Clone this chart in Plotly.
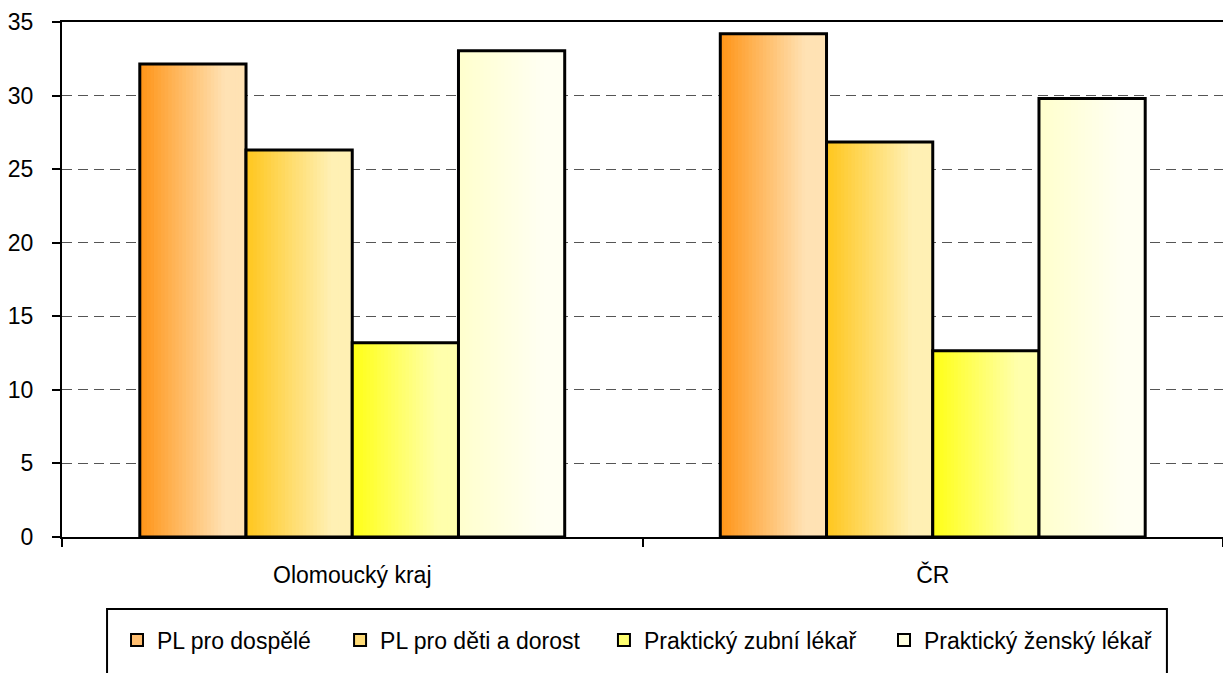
import plotly.graph_objects as go

categories = ["Olomoucký kraj", "ČR"]
series_names = ["PL pro dospělé", "PL pro děti a dorost", "Praktický zubní lékař", "Praktický ženský lékař"]
pl_dospele = [32.15, 34.2]
pl_deti = [26.3, 26.85]
zubni = [13.2, 12.65]
zensky = [33.05, 29.8]
y_ticks = [0, 5, 10, 15, 20, 25, 30, 35]

series_values = [pl_dospele, pl_deti, zubni, zensky]
grad_left = [(255, 148, 22), (255, 198, 28), (255, 255, 20), (255, 255, 205)]
grad_right = [(255, 226, 180), (255, 240, 180), (255, 255, 172), (255, 255, 242)]
legend_col = ["#FFBE70", "#FFDC78", "#FFFF70", "#FFFFE0"]

FONT = "Liberation Sans, Arial, sans-serif"
FS = 23

bar_w = 0.183
offsets = [-2 * bar_w, -bar_w, 0.0, bar_w]
legend_x = [0.0474, 0.2395, 0.4668, 0.7080]
legend_ids = ["legend", "legend2", "legend3", "legend4"]
N = 30

fig = go.Figure()


def mix(a, b, t):
    return "rgb(%d,%d,%d)" % tuple(round(a[i] + (b[i] - a[i]) * t) for i in range(3))


for s, vals in enumerate(series_values):
    sw = bar_w / N
    for k in range(N):
        t = min(1.0, (k + 0.5) / (N * 0.8))
        w = sw * 1.4 if k < N - 1 else sw
        fig.add_trace(go.Bar(
            x=categories, y=vals, width=w, offset=offsets[s] + k * sw,
            marker=dict(color=mix(grad_left[s], grad_right[s], t), line=dict(width=0)),
            showlegend=False, hoverinfo="skip",
        ))
    fig.add_trace(go.Bar(
        x=categories, y=vals, width=bar_w, offset=offsets[s],
        marker=dict(color="rgba(0,0,0,0)", line=dict(color="black", width=3)),
        showlegend=False, name=series_names[s],
    ))

for s in range(4):
    fig.add_trace(go.Bar(
        x=[categories[0]], y=[None], name=series_names[s],
        marker=dict(color=legend_col[s], line=dict(color="black", width=2)),
        showlegend=True, legend=legend_ids[s],
    ))

legend_common = dict(
    orientation="h", xanchor="left", y=-0.2, yanchor="middle",
    font=dict(family=FONT, size=FS, color="black"),
    bgcolor="rgba(0,0,0,0)", borderwidth=0,
)
legend_layout = {lid: dict(legend_common, x=legend_x[i]) for i, lid in enumerate(legend_ids)}

fig.update_layout(
    width=1223, height=673,
    margin=dict(l=62, r=0, t=22, b=136),
    barmode="overlay",
    paper_bgcolor="white", plot_bgcolor="white",
    font=dict(family=FONT, size=FS, color="black"),
    showlegend=True,
    shapes=[dict(type="rect", xref="paper", yref="paper",
                 x0=0.0388, x1=0.9517, y0=-0.1398, y1=-0.32,
                 line=dict(color="black", width=2), fillcolor="rgba(0,0,0,0)", layer="below")],
    xaxis=dict(
        type="category", showline=True, linecolor="black", linewidth=2, mirror=True,
        ticks="outside", tickson="boundaries", ticklen=8, tickwidth=2, tickcolor="black",
        ticklabelstandoff=16, showgrid=False, zeroline=False,
        tickfont=dict(family=FONT, size=FS, color="black"),
    ),
    yaxis=dict(
        range=[0, 35], tickvals=y_ticks, showline=True, linecolor="black", linewidth=2,
        ticks="outside", ticklen=8, tickwidth=2, tickcolor="black", ticklabelstandoff=14,
        showgrid=True, gridcolor="#555555", gridwidth=1, griddash="10px,6px", zeroline=False,
        tickfont=dict(family=FONT, size=FS, color="black"),
    ),
    **legend_layout,
)

fig.write_html("out.html", config={"displayModeBar": False},
               post_script="document.body.style.margin='0';")
